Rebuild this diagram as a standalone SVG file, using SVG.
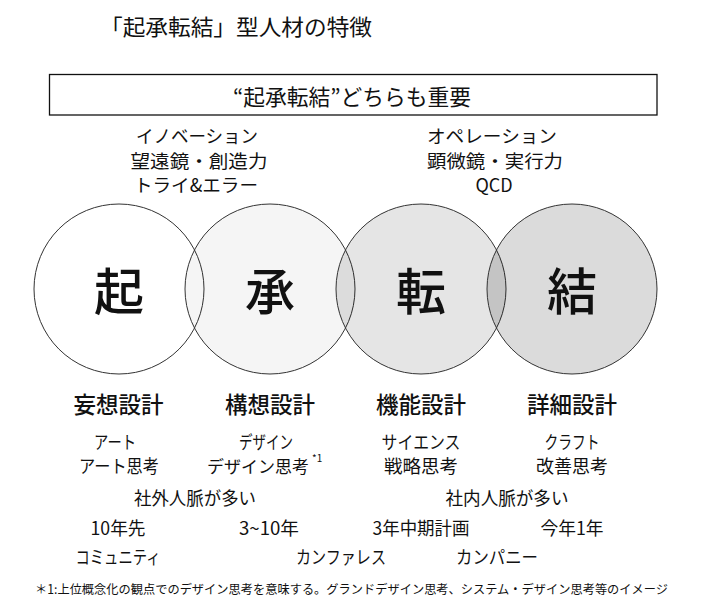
<svg xmlns="http://www.w3.org/2000/svg" width="712" height="611" viewBox="0 0 712 611">
<style>
text{font-family:"Noto Sans CJK JP","Noto Sans",sans-serif;fill:#111;dominant-baseline:central;text-anchor:middle}
.t{font-size:22px}
.s{font-size:18px}
.h{font-size:22.5px;font-weight:500}
.b{font-size:18px}
.big{font-size:50px;font-weight:500}
.fn{font-size:12.5px;text-anchor:start}
.c{stroke:#333;stroke-width:1}
</style>
<rect width="712" height="611" fill="#fff"/>
<g id="title"><text class="t" x="100" y="25" style="text-anchor:start" textLength="272" lengthAdjust="spacingAndGlyphs">「起承転結」型人材の特徴</text></g>
<g id="banner">
<rect x="49.5" y="74.5" width="607.5" height="40.5" fill="#fff" stroke="#111" stroke-width="1.3"/>
<text class="t" x="352" y="95" textLength="238" lengthAdjust="spacingAndGlyphs">“起承転結”どちらも重要</text>
</g>
<g id="left-traits">
<text class="s" x="197" y="135" textLength="122" lengthAdjust="spacingAndGlyphs">イノベーション</text>
<text class="s" x="199" y="159.5" textLength="137" lengthAdjust="spacingAndGlyphs">望遠鏡・創造力</text>
<text class="s" x="196" y="184" textLength="124" lengthAdjust="spacingAndGlyphs">トライ&amp;エラー</text>
</g>
<g id="right-traits">
<text class="s" x="492" y="135" textLength="130" lengthAdjust="spacingAndGlyphs">オペレーション</text>
<text class="s" x="495" y="159.5" textLength="136" lengthAdjust="spacingAndGlyphs">顕微鏡・実行力</text>
<text class="s" x="494" y="184">QCD</text>
</g>
<g id="connectors"></g>
<g id="circles">
<g id="node-ki"><circle class="c" cx="119" cy="289" r="85" fill="#fff"/></g>
<g id="node-sho"><circle class="c" cx="270" cy="289" r="85" fill="#000" fill-opacity="0.04"/></g>
<g id="node-ten"><circle class="c" cx="421" cy="289" r="85" fill="#000" fill-opacity="0.1"/></g>
<g id="node-ketsu"><circle class="c" cx="572" cy="289" r="85" fill="#000" fill-opacity="0.14"/></g>
<text class="big" x="119" y="288">起</text>
<text class="big" x="270" y="288">承</text>
<text class="big" x="421" y="288">転</text>
<text class="big" x="572" y="288">結</text>
</g>
<g id="col-ki">
<text class="h" x="118.5" y="403">妄想設計</text>
<text class="b" x="115" y="441" textLength="42" lengthAdjust="spacingAndGlyphs">アート</text>
<text class="b" x="119" y="465" textLength="80" lengthAdjust="spacingAndGlyphs">アート思考</text>
<text class="b" x="118" y="527" textLength="55" lengthAdjust="spacingAndGlyphs">10年先</text>
<text class="b" x="118" y="556" textLength="85" lengthAdjust="spacingAndGlyphs">コミュニティ</text>
</g>
<g id="col-sho">
<text class="h" x="270" y="403">構想設計</text>
<text class="b" x="266" y="441" textLength="54" lengthAdjust="spacingAndGlyphs">デザイン</text>
<text x="207" y="465" style="font-size:17px;text-anchor:start">デザイン思考</text>
<text x="312" y="457" style="font-size:10px;text-anchor:start">*1</text>
<text class="b" x="269" y="527" textLength="60" lengthAdjust="spacingAndGlyphs">3~10年</text>
</g>
<g id="col-ten">
<text class="h" x="421" y="403">機能設計</text>
<text class="b" x="421" y="441" textLength="79" lengthAdjust="spacingAndGlyphs">サイエンス</text>
<text class="b" x="421" y="465" textLength="74" lengthAdjust="spacingAndGlyphs">戦略思考</text>
<text class="b" x="421" y="527" textLength="97" lengthAdjust="spacingAndGlyphs">3年中期計画</text>
</g>
<g id="col-ketsu">
<text class="h" x="572" y="403">詳細設計</text>
<text class="b" x="572" y="441" textLength="55" lengthAdjust="spacingAndGlyphs">クラフト</text>
<text class="b" x="572" y="465" textLength="72" lengthAdjust="spacingAndGlyphs">改善思考</text>
<text class="b" x="572" y="527" textLength="63" lengthAdjust="spacingAndGlyphs">今年1年</text>
</g>
<g id="shared">
<text class="b" x="195" y="497" textLength="122" lengthAdjust="spacingAndGlyphs">社外人脈が多い</text>
<text class="b" x="507" y="497" textLength="123" lengthAdjust="spacingAndGlyphs">社内人脈が多い</text>
<text class="b" x="341" y="556" textLength="90" lengthAdjust="spacingAndGlyphs">カンファレス</text>
<text class="b" x="497" y="556" textLength="82" lengthAdjust="spacingAndGlyphs">カンパニー</text>
</g>
<g id="footnote"><text class="fn" x="35" y="588" textLength="633" lengthAdjust="spacingAndGlyphs">＊1:上位概念化の観点でのデザイン思考を意味する。グランドデザイン思考、システム・デザイン思考等のイメージ</text></g>
</svg>
